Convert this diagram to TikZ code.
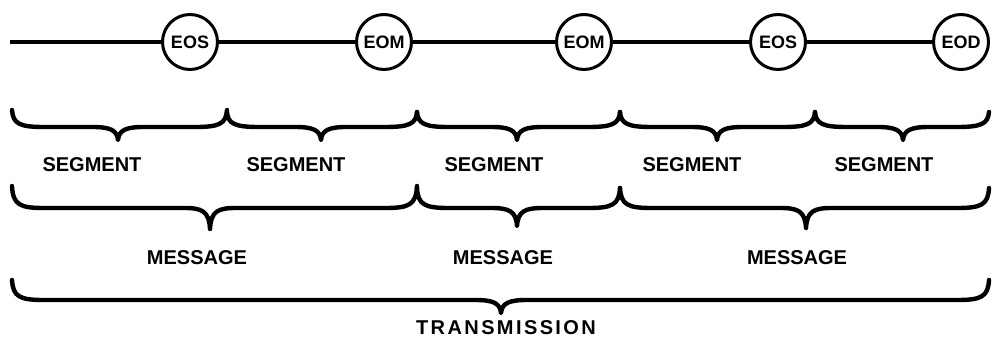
\documentclass[tikz,border=0pt]{standalone}
\usepackage{fontspec}
\setmainfont{Liberation Sans}
\tikzset{
  every picture/.style={line join=round},
  evt/.style={draw, circle, line width=3pt, minimum size=55pt, inner sep=0pt, font=\bfseries\fontsize{18}{20}\selectfont},
  wire/.style={line width=3.4pt},
  bracestyle/.style={line width=4.4pt, line cap=round},
  lbl/.style={font=\bfseries\fontsize{20}{22}\selectfont, inner sep=0pt}
}
\newfontfamily\spacedfont[LetterSpace=12]{Liberation Sans}
\newcommand\mybrace[6]{% xa xb xm yend ybody ytip
  \draw[bracestyle] ({#1},{#4}) .. controls ({#1+1},{#5-3}) and ({#1+8},{#5}) .. ({#1+32},{#5})
    -- ({#3-26},{#5}) .. controls ({#3-8},{#5}) and ({#3-1},{#5+3}) .. ({#3},{#6})
    .. controls ({#3+1},{#5+3}) and ({#3+8},{#5}) .. ({#3+26},{#5})
    -- ({#2-32},{#5}) .. controls ({#2-8},{#5}) and ({#2-1},{#5-3}) .. ({#2},{#4});}
\begin{document}
\begin{tikzpicture}[x=1pt,y=-1pt]
\useasboundingbox (0,0) rectangle (992,339);
% event circles
\node[evt] (c1) at (190,42) {EOS};
\node[evt] (c2) at (384,42) {EOM};
\node[evt] (c3) at (584,42) {EOM};
\node[evt] (c4) at (778,42) {EOS};
\node[evt] (c5) at (961,42) {EOD};
\coordinate (s) at (10,42);
\draw[wire] (s) -- (c1);
\draw[wire] (c1) -- (c2);
\draw[wire] (c2) -- (c3);
\draw[wire] (c3) -- (c4);
\draw[wire] (c4) -- (c5);
% segment braces
\mybrace{12}{227}{118}{110}{127}{140}
\mybrace{227}{417}{321}{112}{127}{140}
\mybrace{417}{620}{517}{112}{127}{140}
\mybrace{620}{815}{717}{112}{127}{140}
\mybrace{815}{989}{903}{112}{127}{140}
\node[lbl] (s1) at (92,165) {SEGMENT};
\node[lbl] (s2) at (296,165) {SEGMENT};
\node[lbl] (s3) at (494,165) {SEGMENT};
\node[lbl] (s4) at (692,165) {SEGMENT};
\node[lbl] (s5) at (884,165) {SEGMENT};
% message braces
\mybrace{12}{417}{210}{186}{208}{229}
\mybrace{417}{620}{517}{188}{208}{226}
\mybrace{620}{989}{806}{188}{208}{228}
\node[lbl] (m1) at (197,258) {MESSAGE};
\node[lbl] (m2) at (503,258) {MESSAGE};
\node[lbl] (m3) at (797,258) {MESSAGE};
% transmission brace
\mybrace{12}{989}{501}{280}{300}{313}
\node[lbl, font=\spacedfont\bfseries\fontsize{20}{22}\selectfont] (t) at (506,328) {TRANSMISSION};
\end{tikzpicture}
\end{document}
